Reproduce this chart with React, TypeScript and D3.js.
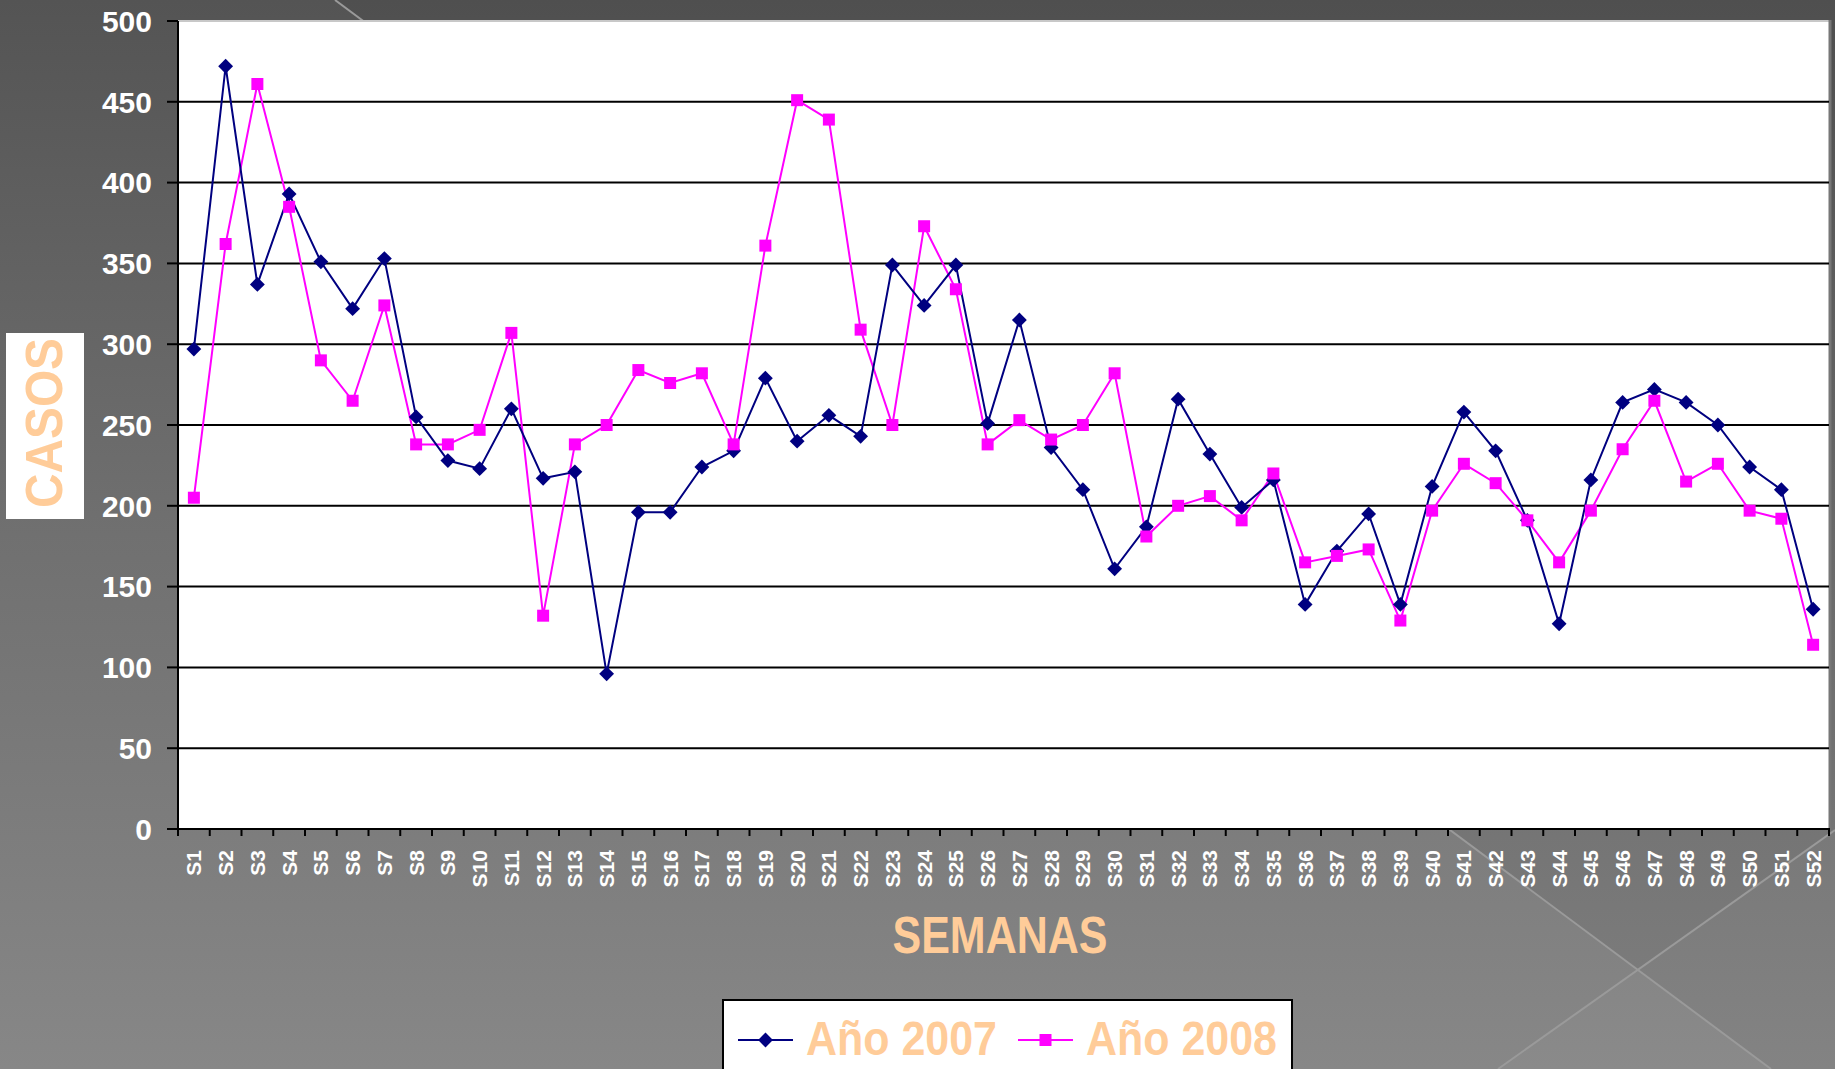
import React from "react";
import * as d3 from "d3";

const weeks = Array.from({ length: 52 }, (_, i) => `S${i + 1}`);
const year2007 = [
  297, 472, 337, 393, 351, 322, 353, 255, 228, 223, 260, 217, 221, 96, 196,
  196, 224, 234, 279, 240, 256, 243, 349, 324, 349, 251, 315, 236, 210, 161,
  187, 266, 232, 199, 216, 139, 172, 195, 139, 212, 258, 234, 191, 127, 216,
  264, 272, 264, 250, 224, 210, 136,
];
const year2008 = [
  205, 362, 461, 385, 290, 265, 324, 238, 238, 247, 307, 132, 238, 250, 284,
  276, 282, 238, 361, 451, 439, 309, 250, 373, 334, 238, 253, 241, 250, 282,
  181, 200, 206, 191, 220, 165, 169, 173, 129, 197, 226, 214, 191, 165, 197,
  235, 265, 215, 226, 197, 192, 114,
];
const yTicks = [0, 50, 100, 150, 200, 250, 300, 350, 400, 450, 500];
const seriesNames = ["Año 2007", "Año 2008"];

const width = 1835;
const height = 1069;
const plot = { left: 178, right: 1830, top: 21, bottom: 829 };
const font = "'Liberation Sans', Arial, sans-serif";
const peach = "#FFCC99";
const navy = "#000080";
const magenta = "#FF00FF";

const diamond = d3.symbol(d3.symbolSquare, 110)();
const square = d3.symbol(d3.symbolSquare, 144)();

export default function App() {
  const x = d3
    .scaleBand()
    .domain(weeks)
    .range([plot.left, plot.right - 1])
    .padding(0);
  const y = d3.scaleLinear().domain([0, 500]).range([plot.bottom, plot.top]);
  const cx = (i: number) => (x(weeks[i]) as number) + x.bandwidth() / 2;
  const path = d3
    .line<number>()
    .x((_, i) => cx(i))
    .y((d) => y(d));

  return (
    <svg
      width={width}
      height={height}
      style={{ position: "absolute", left: 0, top: 0, display: "block" }}
      fontFamily={font}
      fontWeight="bold"
    >
      <defs>
        <linearGradient id="bg" x1="0" y1="0" x2="0" y2="1">
          <stop offset="0" stopColor="#545454" />
          <stop offset="0.5" stopColor="#707070" />
          <stop offset="1" stopColor="#878787" />
        </linearGradient>
      </defs>
      <rect width={width} height={height} fill="url(#bg)" />
      {/* decorative background shapes */}
      <polygon points="335,0 1835,0 1835,1069 1771,1069" fill="#000" opacity={0.06} />
      <polygon points="1835,830 1835,1069 1498,1069" fill="#fff" opacity={0.03} />
      <line x1={335} y1={0} x2={1771} y2={1069} stroke="#9a9a9a" strokeWidth={2} />
      <line x1={1835} y1={830} x2={1498} y2={1069} stroke="#9a9a9a" strokeWidth={2} />

      {/* plot area */}
      <rect
        x={plot.left}
        y={plot.top}
        width={plot.right - plot.left}
        height={plot.bottom - plot.top}
        fill="#fff"
        stroke="#c8c8c8"
        strokeWidth={2}
      />
      <line
        x1={plot.right}
        x2={plot.right}
        y1={plot.top - 1}
        y2={plot.bottom + 1}
        stroke="#777"
        strokeWidth={3}
      />
      {yTicks.map((t) => (
        <g key={`y${t}`}>
          {t > 0 && t < 500 && (
            <line
              x1={plot.left}
              x2={plot.right - 1}
              y1={y(t)}
              y2={y(t)}
              stroke="#000"
              strokeWidth={2}
            />
          )}
          <line x1={plot.left - 11} x2={plot.left} y1={y(t)} y2={y(t)} stroke="#000" strokeWidth={2} />
          <text
            x={152}
            y={y(t)}
            dy="0.36em"
            textAnchor="end"
            fontSize={30}
            fill="#fff"
          >
            {t}
          </text>
        </g>
      ))}
      <line x1={plot.left} x2={plot.left} y1={plot.top} y2={plot.bottom + 7} stroke="#000" strokeWidth={2} />
      <line x1={plot.left - 11} x2={plot.right} y1={plot.bottom} y2={plot.bottom} stroke="#000" strokeWidth={2} />
      {weeks.map((w, i) => (
        <g key={w}>
          <line
            x1={(x(w) as number) + x.bandwidth()}
            x2={(x(w) as number) + x.bandwidth()}
            y1={plot.bottom}
            y2={plot.bottom + 7}
            stroke="#000"
            strokeWidth={2}
          />
          <text
            transform={`translate(${cx(i) + 7.5},${plot.bottom + 21}) rotate(-90)`}
            textAnchor="end"
            fontSize={21}
            fill="#fff"
          >
            {w}
          </text>
        </g>
      ))}

      {/* series */}
      <path d={path(year2008) ?? ""} fill="none" stroke={magenta} strokeWidth={2} />
      <path d={path(year2007) ?? ""} fill="none" stroke={navy} strokeWidth={2} />
      {year2007.map((v, i) => (
        <path
          key={`a${i}`}
          d={diamond}
          transform={`translate(${cx(i)},${y(v)}) rotate(45)`}
          fill={navy}
        />
      ))}
      {year2008.map((v, i) => (
        <path key={`b${i}`} d={square} transform={`translate(${cx(i)},${y(v)})`} fill={magenta} />
      ))}

      {/* axis titles */}
      <rect x={6} y={333} width={78} height={186} fill="#fff" />
      <text
        transform="translate(62,423) rotate(-90)"
        textAnchor="middle"
        fontSize={51}
        fill={peach}
        textLength={170}
        lengthAdjust="spacingAndGlyphs"
      >
        CASOS
      </text>
      <text
        x={1000}
        y={953}
        textAnchor="middle"
        fontSize={51}
        fill={peach}
        textLength={215}
        lengthAdjust="spacingAndGlyphs"
      >
        SEMANAS
      </text>

      {/* legend */}
      <rect x={723} y={1000} width={569} height={80} fill="#fff" stroke="#000" strokeWidth={2} />
      {[
        { name: seriesNames[0], color: navy, mark: diamond, rot: 45, x0: 738, tx: 806 },
        { name: seriesNames[1], color: magenta, mark: square, rot: 0, x0: 1018, tx: 1086 },
      ].map((s) => (
        <g key={s.name}>
          <line x1={s.x0} x2={s.x0 + 55} y1={1040} y2={1040} stroke={s.color} strokeWidth={2} />
          <path
            d={s.mark}
            transform={`translate(${s.x0 + 27.5},1040) rotate(${s.rot})`}
            fill={s.color}
          />
          <text
            x={s.tx}
            y={1055}
            fontSize={49}
            fill={peach}
            textLength={191}
            lengthAdjust="spacingAndGlyphs"
          >
            {s.name}
          </text>
        </g>
      ))}
    </svg>
  );
}
